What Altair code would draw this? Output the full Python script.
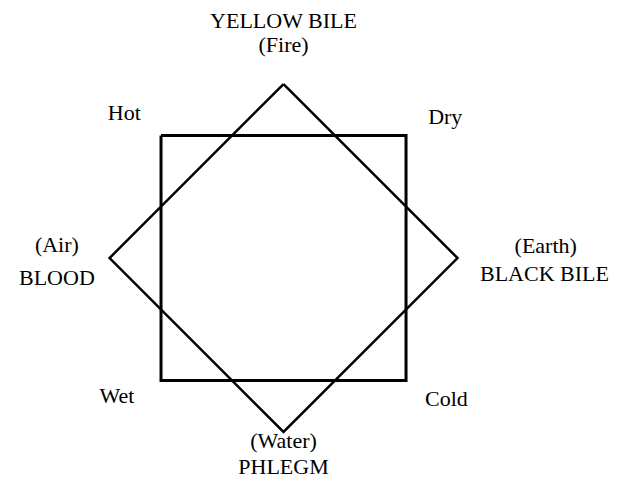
import altair as alt
import pandas as pd

# Geometry in unit coordinates (square half-side = 1, diamond = same square rotated 45 degrees)
square_x = [-1, 1, 1, -1, -1]
square_y = [1, 1, -1, -1, 1]
diamond_x = [0, 1.42, 0, -1.42, 0]
diamond_y = [1.42, 0, -1.42, 0, 1.42]

labels = ["YELLOW BILE", "(Fire)", "Hot", "Dry", "(Air)", "BLOOD", "(Earth)", "BLACK BILE",
          "Wet", "Cold", "(Water)", "PHLEGM"]
label_x = [0.0, 0.0, -1.30, 1.32, -1.85, -1.85, 2.14, 2.13, -1.36, 1.33, 0.0, 0.0]
label_y = [1.88, 1.68, 1.13, 1.09, 0.05, -0.22, 0.04, -0.19, -1.18, -1.21, -1.55, -1.765]

rows = []
for i, (x, y) in enumerate(zip(square_x, square_y)):
    rows.append({"shape": "square", "i": i, "x": x, "y": y})
for i, (x, y) in enumerate(zip(diamond_x, diamond_y)):
    rows.append({"shape": "diamond", "i": i, "x": x, "y": y})
shapes = pd.DataFrame(rows)
text_df = pd.DataFrame({"label": labels, "x": label_x, "y": label_y})

xs = alt.Scale(domain=[-2.249, 2.673], nice=False, zero=False)
ys = alt.Scale(domain=[-1.812, 2.041], nice=False, zero=False)

sq = alt.Chart(shapes).transform_filter(alt.datum.shape == "square").mark_line(
    color="black", strokeWidth=3, strokeJoin="miter", clip=False
).encode(
    x=alt.X("x:Q", scale=xs, axis=None),
    y=alt.Y("y:Q", scale=ys, axis=None),
    order="i:O",
)
dm = alt.Chart(shapes).transform_filter(alt.datum.shape == "diamond").mark_line(
    color="black", strokeWidth=2.5, strokeJoin="miter", clip=False
).encode(
    x=alt.X("x:Q", scale=xs, axis=None),
    y=alt.Y("y:Q", scale=ys, axis=None),
    order="i:O",
)
txt = alt.Chart(text_df).mark_text(
    font="Liberation Serif", fontSize=22, color="black", align="center",
    baseline="alphabetic", clip=False
).encode(
    x=alt.X("x:Q", scale=xs, axis=None),
    y=alt.Y("y:Q", scale=ys, axis=None),
    text="label:N",
)

chart = alt.layer(sq, dm, txt).properties(
    width=603, height=472, padding=0, autosize="none"
).configure_view(stroke=None)

chart.save("out.html", embed_options={"renderer": "svg", "actions": False})
